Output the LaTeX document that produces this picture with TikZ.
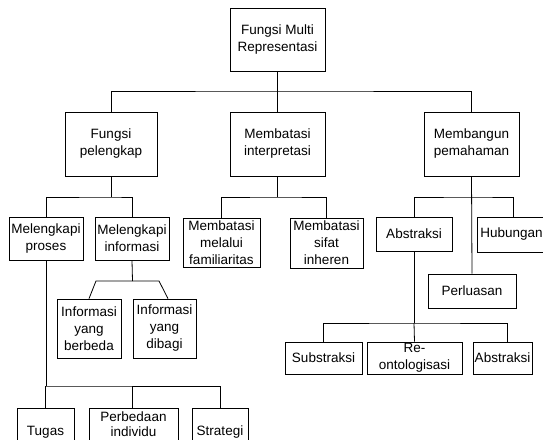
\documentclass[tikz,border=0pt]{standalone}
\usepackage{fontspec}
\setmainfont{Liberation Sans}
\newcommand{\dfont}{\fontsize{13.5}{17}\selectfont}
\newcommand{\tfont}{\fontsize{13.5}{15}\selectfont}
\tikzset{
  box/.style={draw, line width=0.8pt, inner sep=0pt, align=center, font=\dfont, fill=white},
  conn/.style={line width=0.8pt}
}
\begin{document}
\begin{tikzpicture}[x=1pt,y=-1pt]
\useasboundingbox (0,0) rectangle (543,439);
\clip (0,0) rectangle (543,439);
% nodes
\node[box, minimum width=95pt, minimum height=63pt] (root) at (277.5,39.5) {Fungsi Multi\\Representasi};
\node[box, minimum width=92pt, minimum height=64pt] (fp) at (111,144) {Fungsi\\pelengkap};
\node[box, minimum width=95pt, minimum height=64pt] (mi) at (277.5,144) {Membatasi\\interpretasi};
\node[box, minimum width=95pt, minimum height=64pt] (mp) at (471.5,144) {Membangun\\pemahaman};
\node[box, minimum width=74pt, minimum height=43pt] (lp) at (46,238.5) {Melengkapi\\proses};
\node[box, minimum width=74pt, minimum height=43pt] (li) at (132,238.5) {Melengkapi\\informasi};
\node[box, minimum width=64pt, minimum height=59pt] (ib) at (89,328.5) {Informasi\\yang\\berbeda};
\node[box, minimum width=63pt, minimum height=59pt] (id) at (164.5,328.5) {Informasi\\yang\\dibagi};
\node[box, minimum width=77pt, minimum height=49pt] (mf) at (221.5,242.5) {Membatasi\\melalui\\familiaritas};
\node[box, minimum width=73pt, minimum height=50pt] (ms) at (326.5,243) {Membatasi\\sifat\\inheren};
\node[box, minimum width=76pt, minimum height=34pt] (ab) at (414,234) {Abstraksi};
\node[box, minimum width=69pt, minimum height=35pt] (hu) at (511.5,234.5) {Hubungan};
\node[box, minimum width=88pt, minimum height=34pt] (pe) at (472,291) {Perluasan};
\node[box, minimum width=77pt, minimum height=32pt] (sb) at (323.5,358) {Substraksi};
\node[box, minimum width=95pt, minimum height=32pt] (re) at (414.5,358) {Re-\\ontologisasi};
\node[box, minimum width=59pt, minimum height=32pt] (ab2) at (502.5,358) {Abstraksi};
\node[box, minimum width=57pt, minimum height=48pt] (tu) at (45.5,432) {Tugas};
\node[box, font=\tfont, minimum width=89pt, minimum height=33pt] (pb) at (133.5,424.5) {Perbedaan\\individu};
\node[box, minimum width=56pt, minimum height=48pt] (st) at (220,432) {Strategi};
% junction coordinates
\coordinate (b0) at (277.5,91);
\coordinate (b1) at (111,197);
\coordinate (b2) at (277.5,197);
\coordinate (b3) at (472,197);
\coordinate (b4) at (414,323);
\coordinate (b5) at (132.5,281);
\coordinate (b5l) at (96,281);
\coordinate (b5r) at (159,281);
\coordinate (b6) at (46,386);
% connectors
\draw[conn] (root) -- (mi);
\draw[conn] (fp.north) |- (b0) -| (mp.north);
\draw[conn] (fp.south) -- (b1);
\draw[conn] (lp.north) |- (b1) -| (li.north);
\draw[conn] (mi.south) -- (b2);
\draw[conn] (mf.north) |- (b2) -| (ms.north);
\draw[conn] (mp.south) -- (pe.north);
\draw[conn] (ab.north) |- (b3) -| ([xshift=2pt]hu.north);
\draw[conn] (ab.south) -- (b4);
\draw[conn] (sb.north) |- (b4) -| ([xshift=4.5pt]ab2.north);
\draw[conn] (b4) -- (re.north);
\draw[conn] (li.south) -- (b5);
\draw[conn] (ib.north) -- (b5l) -- (b5r) -- ([xshift=3.5pt]id.north);
\draw[conn] (lp.south) -- (b6);
\draw[conn] (tu.north) |- (b6) -| (st.north);
\draw[conn] (pb.north -| b5) -- (b5 |- b6);
\end{tikzpicture}
\end{document}
